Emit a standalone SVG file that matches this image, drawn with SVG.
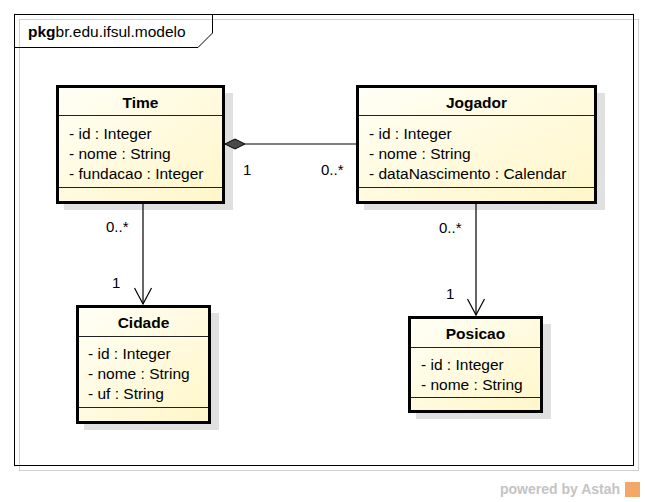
<svg xmlns="http://www.w3.org/2000/svg" width="645" height="502" viewBox="0 0 645 502">
<defs>
<linearGradient id="cls" x1="0" y1="0" x2="1" y2="1">
<stop offset="0" stop-color="#fffff6"/>
<stop offset="1" stop-color="#fff6c8"/>
</linearGradient>
<marker id="open" viewBox="0 0 20 20" refX="17" refY="10" markerWidth="20" markerHeight="20" markerUnits="userSpaceOnUse" orient="auto">
<path d="M1,1.5 L17,10 L1,18.5" fill="none" stroke="#000" stroke-width="1.2"/>
</marker>
</defs>
<style>
text{font-family:"Liberation Sans",Arial,sans-serif;font-size:15.5px;fill:#000}
.t{font-weight:bold;text-anchor:middle}
.shadow{fill:#e0e0e0}
.box{fill:url(#cls);stroke:#000;stroke-width:3}
.sep{stroke:#222;stroke-width:1}
.ln{stroke:#000;stroke-width:1.2;fill:none}
.m{font-size:15px}
</style>
<rect width="645" height="502" fill="#fff"/>
<g id="package">
<rect x="19.5" y="19.5" width="619" height="451" fill="none" stroke="#d0d0d0" stroke-width="1"/>
<rect x="14.5" y="14.5" width="619" height="451" fill="none" stroke="#000" stroke-width="1"/>
<path d="M14.5,47.5 H198 L212.5,33 V14.5" fill="none" stroke="#000" stroke-width="1"/>
<text x="28" y="37"><tspan font-weight="bold">pkg</tspan>br.edu.ifsul.modelo</text>
</g>
<g id="Time">
<rect class="shadow" x="64" y="93" width="169" height="117"/>
<rect class="box" x="57.5" y="86.5" width="166" height="116"/>
<line class="sep" x1="59" y1="115.5" x2="222" y2="115.5"/>
<line class="sep" x1="59" y1="187.5" x2="222" y2="187.5"/>
<text class="t" x="140.5" y="107.5">Time</text>
<text x="69" y="138.5">- id : Integer</text>
<text x="69" y="159">- nome : String</text>
<text x="69" y="179">- fundacao : Integer</text>
</g>
<g id="Jogador">
<rect class="shadow" x="364" y="93" width="241" height="117"/>
<rect class="box" x="357.5" y="86.5" width="238" height="116"/>
<line class="sep" x1="359" y1="115.5" x2="594" y2="115.5"/>
<line class="sep" x1="359" y1="187.5" x2="594" y2="187.5"/>
<text class="t" x="476.5" y="107.5">Jogador</text>
<text x="369" y="138.5">- id : Integer</text>
<text x="369" y="159">- nome : String</text>
<text x="369" y="179">- dataNascimento : Calendar</text>
</g>
<g id="Cidade">
<rect class="shadow" x="84" y="313" width="135" height="117"/>
<rect class="box" x="77.5" y="306.5" width="132" height="116"/>
<line class="sep" x1="79" y1="336.5" x2="208" y2="336.5"/>
<line class="sep" x1="79" y1="407.5" x2="208" y2="407.5"/>
<text class="t" x="143.5" y="328">Cidade</text>
<text x="88" y="359">- id : Integer</text>
<text x="88" y="379">- nome : String</text>
<text x="88" y="399">- uf : String</text>
</g>
<g id="Posicao">
<rect class="shadow" x="416" y="324" width="135" height="95"/>
<rect class="box" x="409.5" y="317.5" width="132" height="94"/>
<line class="sep" x1="411" y1="347.5" x2="540" y2="347.5"/>
<line class="sep" x1="411" y1="397.5" x2="540" y2="397.5"/>
<text class="t" x="475.5" y="339">Posicao</text>
<text x="421" y="370">- id : Integer</text>
<text x="421" y="390">- nome : String</text>
</g>
<g id="connectors">
<line class="ln" x1="245" y1="144" x2="357" y2="144"/>
<path d="M225,144 L235,139 L245,144 L235,149 Z" fill="#4a4a4a" stroke="#000" stroke-width="1"/>
<text class="m" x="243" y="175">1</text>
<text class="m" x="321" y="175">0..*</text>
<line class="ln" x1="143" y1="204" x2="143" y2="304" marker-end="url(#open)"/>
<text class="m" x="106" y="232">0..*</text>
<text class="m" x="112" y="288">1</text>
<line class="ln" x1="476" y1="204" x2="476" y2="315" marker-end="url(#open)"/>
<text class="m" x="439" y="233">0..*</text>
<text class="m" x="446" y="299">1</text>
</g>
<g id="watermark">
<text x="500" y="494" style="font-size:14px;font-weight:bold;fill:#c4c4c4">powered by Astah</text>
<rect x="625" y="482" width="15" height="15" fill="#f3a868"/>
</g>
</svg>
